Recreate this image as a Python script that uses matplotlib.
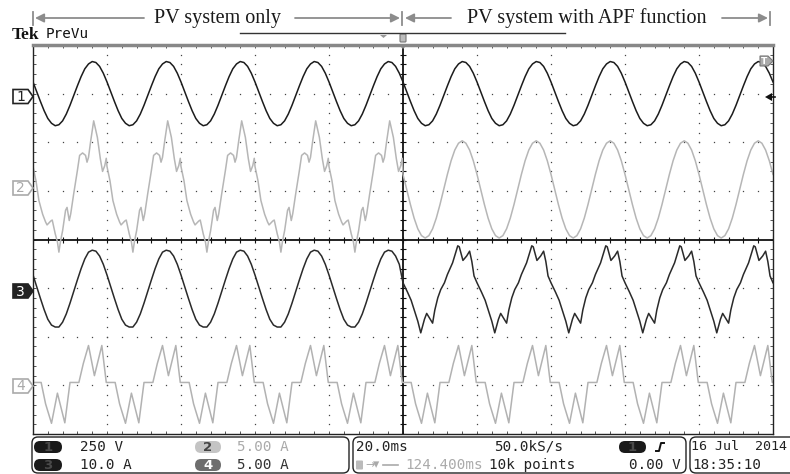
import numpy as np
import matplotlib.pyplot as plt
from matplotlib.patches import FancyBboxPatch, Polygon

# ------------------------------ Data --------------------------------
# One 20 ms period of each trace (in screen divisions).
# Left half of the record = "PV system only", right half = "with APF".

PHASE_20 = [0.00, 0.05, 0.10, 0.15, 0.20, 0.25, 0.30, 0.35, 0.40, 0.45,
            0.50, 0.55, 0.60, 0.65, 0.70, 0.75, 0.80, 0.85, 0.90, 0.95]

# ch1: grid voltage (same in both halves)
CH1_VOLT = [0.24, 0.04, -0.16, -0.35, -0.51, -0.61, -0.66, -0.64, -0.56, -0.42,
            -0.24, -0.04, 0.16, 0.35, 0.51, 0.61, 0.66, 0.64, 0.56, 0.42]

# ch2: grid current, PV only (distorted)
CH2_PV_PHASE = [0.00, 0.04, 0.08, 0.13, 0.17, 0.19, 0.24, 0.26, 0.30, 0.33, 0.35,
                0.37, 0.40, 0.44, 0.46, 0.49, 0.51, 0.55, 0.60, 0.63, 0.67, 0.71,
                0.73, 0.75, 0.78, 0.82, 0.87, 0.91, 0.94, 0.97, 0.99]
CH2_PV = [0.50, 0.21, -0.20, -0.48, -0.64, -0.70, -0.62, -0.60, -0.88, -1.05, -1.26,
          -1.05, -0.82, -0.40, -0.34, -0.61, -0.47, -0.06, 0.42, 0.73, 0.78, 0.73,
          0.59, 0.69, 1.03, 1.44, 1.10, 0.66, 0.40, 0.52, 0.67]
# ch2: grid current with APF (near sine, in phase with voltage)
CH2_APF = [0.34, 0.03, -0.28, -0.56, -0.78, -0.92, -0.97, -0.92, -0.78, -0.56,
           -0.28, 0.03, 0.34, 0.62, 0.84, 0.98, 1.03, 0.98, 0.84, 0.62]

# ch3: PV inverter current, PV only (sine)
CH3_PV = [0.27, 0.03, -0.21, -0.44, -0.64, -0.76, -0.80, -0.80, -0.70, -0.53,
          -0.31, -0.07, 0.17, 0.40, 0.60, 0.74, 0.78, 0.76, 0.66, 0.49]
# ch3: PV inverter current with APF (carries the harmonics)
CH3_APF_PHASE = [0.00, 0.06, 0.11, 0.15, 0.20, 0.24, 0.29, 0.32, 0.36, 0.40, 0.43, 0.47,
                 0.51, 0.56, 0.60, 0.67, 0.71, 0.74, 0.76, 0.81, 0.86, 0.90, 0.93, 0.96]
CH3_APF = [0.11, -0.08, -0.25, -0.44, -0.68, -0.92, -0.64, -0.52, -0.62, -0.72, -0.45, -0.20,
           -0.03, 0.11, 0.28, 0.52, 0.72, 0.87, 0.85, 0.57, 0.66, 0.76, 0.55, 0.25]

# ch4: nonlinear load current (same in both halves)
CH4_PHASE = [0.00, 0.11, 0.17, 0.25, 0.33, 0.43, 0.50, 0.62, 0.68, 0.75, 0.83, 0.93, 0.99]
CH4_LOAD = [0.06, 0.06, -0.38, -0.78, -0.16, -0.77, 0.06, 0.06, 0.45, 0.82, 0.20, 0.82, 0.06]

OFFSETS = {"1": 3.0, "2": 1.0, "3": -1.0, "4": -3.0}
COLORS = {"1": "#1c1c1c", "2": "#b6b6b6", "3": "#2a2a2a", "4": "#b2b2b2"}

W, H = 790, 474

# --------------------------- Helpers --------------------------------

def record(ph_pv, v_pv, ph_apf, v_apf, offset):
    t, v = [], []
    for k in range(10):
        ph, val = (ph_pv, v_pv) if k < 5 else (ph_apf, v_apf)
        t += [k + p for p in ph]
        v += [offset + x for x in val]
    t.append(10.0)
    v.append(offset + v_apf[0])
    return t, v

def badge(ax, x, y, w, txt, fc, tc):
    ax.add_patch(FancyBboxPatch((x, y - 6), w, 12, boxstyle="round,pad=0,rounding_size=6",
                                fc=fc, ec="none"))
    ax.text(x + w / 2, y + 0.5, txt, ha="center", va="center", color=tc,
            fontsize=9.5, family="DejaVu Sans", fontweight="bold")

def ch_marker(ax, y, txt, filled, col):
    pts = [(13, y - 7), (28, y - 7), (33, y), (28, y + 7), (13, y + 7)]
    ax.add_patch(Polygon(pts, closed=True, fc=col if filled else "white",
                         ec=col, lw=1.2, zorder=5))
    ax.text(20.5, y + 0.5, txt, ha="center", va="center", fontsize=10,
            color="white" if filled else col, zorder=6, family="DejaVu Sans")

# ------------------------------ Figure ------------------------------

fig = plt.figure(figsize=(W / 100, H / 100), dpi=100)
fig.patch.set_facecolor("white")

# scope graticule: 10 x 8 divisions
ax = fig.add_axes([33 / W, 1 - 434 / H, 740 / W, 389 / H])
ax.set_xlim(0, 10)
ax.set_ylim(-4, 4)
ax.set_xticks(np.arange(0, 10.01, 0.2))
ax.set_yticks(np.arange(-4, 4.01, 0.2))
ax.tick_params(direction="in", length=2.5, width=0.7, color="#555", top=True, right=True,
               labelbottom=False, labelleft=False)
for side in ("left", "right", "bottom"):
    ax.spines[side].set_color("#222")
    ax.spines[side].set_linewidth(1.0)
ax.spines["top"].set_color("#888")
ax.spines["top"].set_linewidth(2.5)

ys = np.arange(-4, 4.01, 0.2)
xs = np.arange(0, 10.01, 0.2)
for xv in [1, 2, 3, 4, 6, 7, 8, 9]:
    ax.plot([xv] * len(ys), ys, ls="none", marker="s", ms=0.9, mew=0, color="#444")
for yv in [-3, -2, -1, 1, 2, 3]:
    ax.plot(xs, [yv] * len(xs), ls="none", marker="s", ms=0.9, mew=0, color="#444")
ax.axvline(5, color="#111", lw=1.3)
ax.axhline(0, color="#111", lw=1.3)
ax.plot(xs, [0] * len(xs), ls="none", marker="|", ms=5, mew=0.8, color="#111")
ax.plot([5] * len(ys), ys, ls="none", marker="_", ms=5, mew=0.8, color="#111")

traces = {
    "1": record(PHASE_20, CH1_VOLT, PHASE_20, CH1_VOLT, OFFSETS["1"]),
    "2": record(CH2_PV_PHASE, CH2_PV, PHASE_20, CH2_APF, OFFSETS["2"]),
    "3": record(PHASE_20, CH3_PV, CH3_APF_PHASE, CH3_APF, OFFSETS["3"]),
    "4": record(CH4_PHASE, CH4_LOAD, CH4_PHASE, CH4_LOAD, OFFSETS["4"]),
}
for ch in ["4", "2", "3", "1"]:
    t, v = traces[ch]
    ax.plot(t, v, color=COLORS[ch], lw=1.1, clip_on=True)

# overlay for the screen decorations (pixel coordinates)
dax = fig.add_axes([0, 0, 1, 1], zorder=3)
dax.set_xlim(0, W)
dax.set_ylim(H, 0)
dax.axis("off")
dax.patch.set_alpha(0)

# top annotation
gray = "#8c8c8c"
serif = "Liberation Serif"
dax.text(218, 18, "PV system only", ha="center", va="center", fontsize=14.5,
         family=serif, color="#1a1a1a")
dax.text(587, 18, "PV system with APF function", ha="center", va="center", fontsize=14.5,
         family=serif, color="#1a1a1a")
arrow = dict(arrowstyle="-|>", color=gray, lw=1.3, mutation_scale=13, shrinkA=0, shrinkB=0)
for x0, x1 in [(144, 35), (295, 400), (451, 405), (722, 768)]:
    dax.annotate("", xy=(x1, 18), xytext=(x0, 18), arrowprops=arrow)
for xb in [33, 402, 770]:
    dax.plot([xb, xb], [12, 25], color=gray, lw=1.3)

# header
dax.text(12, 39, "Tek", family=serif, fontweight="bold", fontsize=12.5, color="#111",
         va="baseline")
dax.text(46, 38, "PreVu", family="DejaVu Sans Mono", fontsize=10.3, color="#111", va="baseline")
dax.plot([240, 565], [33, 33], color="#333", lw=1.0)
dax.add_patch(Polygon([(380, 35), (387, 35), (383.5, 38)], fc="#999", ec="none"))
dax.add_patch(FancyBboxPatch((400, 34), 6, 8, boxstyle="round,pad=0,rounding_size=1",
                             fc="#bbb", ec="#777", lw=0.8))
dax.add_patch(Polygon([(398, 44), (408, 44), (403, 49)], fc="#888", ec="none"))
dax.add_patch(Polygon([(760, 56), (768, 56), (773, 61), (768, 66), (760, 66)],
                      fc="#aaa", ec="#777", lw=0.8))
dax.text(764, 61.5, "T", ha="center", va="center", fontsize=6.5, color="white", fontweight="bold")
dax.add_patch(Polygon([(765, 97), (772, 93), (772, 101)], fc="#111", ec="none"))
dax.plot([768, 775], [97, 97], color="#111", lw=1.2)

# channel markers
ch_marker(dax, 96.5, "1", False, "#222")
ch_marker(dax, 188, "2", False, "#aaa")
ch_marker(dax, 291, "3", True, "#222")
ch_marker(dax, 386, "4", False, "#aaa")

# status bar
mono = "DejaVu Sans Mono"
for x, w in [(32, 317), (353, 333), (690, 120)]:
    dax.add_patch(FancyBboxPatch((x, 437), w, 36, boxstyle="round,pad=0,rounding_size=6",
                                 fc="white", ec="#222", lw=1.0))
r1, r2 = 447, 465
badge(dax, 34, r1, 28, "1", "#1a1a1a", "#4a4a4a")
badge(dax, 34, r2, 28, "3", "#1a1a1a", "#4a4a4a")
badge(dax, 195, r1, 26, "2", "#c4c4c4", "#444")
badge(dax, 195, r2, 26, "4", "#6e6e6e", "white")
badge(dax, 619, r1, 27, "1", "#1a1a1a", "#4a4a4a")
fs = 10.3
dax.text(80, r1, "250 V", family=mono, fontsize=fs, va="center", color="#222")
dax.text(80, r2, "10.0 A", family=mono, fontsize=fs, va="center", color="#222")
dax.text(237, r1, "5.00 A", family=mono, fontsize=fs, va="center", color="#aaa")
dax.text(237, r2, "5.00 A", family=mono, fontsize=fs, va="center", color="#333")
dax.text(356, r1, "20.0ms", family=mono, fontsize=fs, va="center", color="#222")
dax.text(494, r1, "50.0kS/s", family=mono, fontsize=fs, va="center", color="#222")
dax.add_patch(FancyBboxPatch((356, r2 - 4.5), 7, 9, boxstyle="round,pad=0,rounding_size=1",
                             fc="#bbb", ec="none"))
dax.text(365, r2, "\u2192", family="DejaVu Sans", fontsize=8, va="center", color="#aaa")
dax.text(373, r2, "\u25be", family="DejaVu Sans", fontsize=9, va="center", color="#aaa")
dax.plot([383, 398], [r2, r2], color="#aaa", lw=1.2)
dax.text(405, r2, "124.400ms", family=mono, fontsize=fs, va="center", color="#aaa")
dax.text(489, r2, "10k points", family=mono, fontsize=fs, va="center", color="#222")
dax.plot([656, 659, 661, 664], [r1 + 4, r1 + 4, r1 - 4, r1 - 4], color="#111", lw=1.4)
dax.text(681, r2, "0.00 V", family=mono, fontsize=fs, va="center", ha="right", color="#222")
dax.text(691, r1, "16 Jul  2014", family=mono, fontsize=9.6, va="center", color="#222")
dax.text(692, r2, "18:35:10", family=mono, fontsize=fs, va="center", color="#222")

fig.savefig("out.png", dpi=100)
